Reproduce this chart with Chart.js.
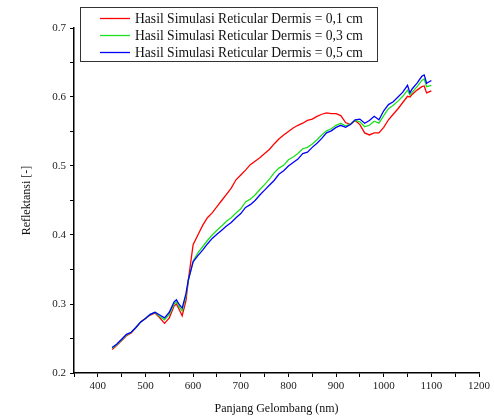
<!DOCTYPE html>
<html>
<head>
<meta charset="utf-8">
<script src="https://cdn.jsdelivr.net/npm/chart.js@4.4.1/dist/chart.umd.min.js"></script>
<style>
  html, body { margin: 0; padding: 0; background: #fff; }
  #wrap { width: 494px; height: 420px; position: relative; }
</style>
</head>
<body>
<div id="wrap"><canvas id="chart"></canvas></div>
<script>
// wavelengths (nm)
const wavelengths = [430, 440, 450, 460, 470, 480, 490, 500, 510, 520, 530, 540, 550, 560, 565, 570, 577, 585, 590,
  600, 610, 620, 630, 640, 650, 660, 670, 680, 690, 700, 710, 720, 730, 740, 750, 760, 770, 780, 790,
  800, 810, 820, 830, 840, 850, 860, 870, 880, 890, 900, 910, 920, 930, 940, 950, 960, 970, 980, 990,
  1000, 1010, 1020, 1030, 1040, 1050, 1055, 1060, 1070, 1080, 1085, 1090, 1100];

const dermis01 = [0.234, 0.240, 0.247, 0.254, 0.258, 0.266, 0.274, 0.279, 0.284, 0.287, 0.280, 0.272, 0.280, 0.297, 0.300, 0.293, 0.283, 0.305, 0.335,
  0.386, 0.400, 0.414, 0.425, 0.432, 0.441, 0.450, 0.459, 0.468, 0.480, 0.487, 0.494, 0.502, 0.507, 0.512, 0.518, 0.524, 0.532, 0.539, 0.545,
  0.550, 0.555, 0.559, 0.562, 0.566, 0.568, 0.572, 0.575, 0.577, 0.576, 0.576, 0.573, 0.563, 0.560, 0.566, 0.560, 0.548, 0.545, 0.548, 0.548,
  0.556, 0.567, 0.575, 0.583, 0.592, 0.601, 0.600, 0.604, 0.610, 0.615, 0.616, 0.606, 0.609];

const dermis03 = [0.236, 0.241, 0.248, 0.255, 0.259, 0.266, 0.274, 0.279, 0.285, 0.288, 0.282, 0.277, 0.285, 0.300, 0.303, 0.297, 0.290, 0.312, 0.334,
  0.362, 0.374, 0.383, 0.392, 0.400, 0.407, 0.413, 0.420, 0.425, 0.432, 0.438, 0.448, 0.452, 0.458, 0.466, 0.473, 0.481, 0.490, 0.497, 0.501,
  0.509, 0.513, 0.518, 0.525, 0.527, 0.532, 0.538, 0.545, 0.551, 0.554, 0.559, 0.562, 0.558, 0.561, 0.566, 0.564, 0.557, 0.559, 0.565, 0.562,
  0.573, 0.583, 0.588, 0.594, 0.601, 0.610, 0.603, 0.607, 0.615, 0.624, 0.626, 0.615, 0.617];

const dermis05 = [0.237, 0.242, 0.249, 0.256, 0.259, 0.266, 0.274, 0.279, 0.285, 0.288, 0.284, 0.280, 0.288, 0.303, 0.306, 0.300, 0.294, 0.315, 0.335,
  0.361, 0.370, 0.378, 0.387, 0.395, 0.401, 0.407, 0.413, 0.418, 0.425, 0.431, 0.440, 0.444, 0.450, 0.458, 0.465, 0.472, 0.479, 0.488, 0.493,
  0.500, 0.505, 0.510, 0.518, 0.520, 0.527, 0.533, 0.540, 0.548, 0.551, 0.556, 0.559, 0.556, 0.560, 0.567, 0.568, 0.562, 0.566, 0.572, 0.567,
  0.580, 0.589, 0.593, 0.600, 0.607, 0.617, 0.606, 0.612, 0.620, 0.630, 0.632, 0.620, 0.624];

const seriesLabels = [
  'Hasil Simulasi Reticular Dermis = 0,1 cm',
  'Hasil Simulasi Reticular Dermis = 0,3 cm',
  'Hasil Simulasi Reticular Dermis = 0,5 cm'
];
const seriesColors = ['#ff0000', '#1ee01e', '#0000ff'];

const serif = "'Liberation Serif', 'DejaVu Serif', serif";

const toPoints = vals => wavelengths.map((w, i) => ({ x: w, y: vals[i] }));

// legend box drawn by hand, in the order of seriesLabels
const boxLegend = {
  id: 'boxLegend',
  afterDraw(chart) {
    const ctx = chart.ctx;
    ctx.save();
    ctx.fillStyle = '#fff';
    ctx.fillRect(80, 7, 297, 54);
    ctx.strokeStyle = '#333';
    ctx.lineWidth = 1;
    ctx.strokeRect(80.5, 7.5, 297, 54);
    ctx.font = '13.6px ' + serif;
    ctx.textBaseline = 'middle';
    seriesLabels.forEach((label, i) => {
      const y = 18.5 + i * 17;
      ctx.strokeStyle = seriesColors[i];
      ctx.lineWidth = 1.3;
      ctx.beginPath();
      ctx.moveTo(100, y);
      ctx.lineTo(130, y);
      ctx.stroke();
      ctx.fillStyle = '#111';
      ctx.fillText(label, 135, y + 1);
    });
    ctx.restore();
  }
};

new Chart(document.getElementById('chart'), {
  type: 'line',
  data: {
    // blue drawn last so it sits on top, as in the original
    datasets: [dermis01, dermis03, dermis05].map((vals, i) => ({
      label: seriesLabels[i],
      data: toPoints(vals),
      borderColor: seriesColors[i],
      borderWidth: 1.3,
      pointRadius: 0,
      tension: 0,
      fill: false
    })).reverse()
  },
  options: {
    responsive: true,
    maintainAspectRatio: false,
    animation: false,
    layout: { padding: { top: 28, right: 15, left: 16, bottom: 0 } },
    plugins: {
      legend: { display: false },
      tooltip: { enabled: false }
    },
    scales: {
      x: {
        type: 'linear',
        min: 350,
        max: 1200,
        afterFit(scale) { scale.height = 47; },
        ticks: {
          stepSize: 50,
          autoSkip: false,
          maxRotation: 0,
          color: '#222',
          font: { family: serif, size: 11 },
          padding: 3,
          callback: v => (v % 100 === 0 ? String(v) : '')
        },
        grid: { display: true, drawOnChartArea: false, drawTicks: true, tickLength: 4, color: '#000', tickWidth: 1 },
        border: { display: true, color: '#000', width: 1.5 },
        title: { display: true, text: 'Panjang Gelombang (nm)', color: '#111', font: { family: serif, size: 12 }, padding: { top: 4 } }
      },
      y: {
        min: 0.2,
        max: 0.7,
        afterFit(scale) { scale.width = 58; },
        ticks: {
          stepSize: 0.05,
          autoSkip: false,
          color: '#222',
          font: { family: serif, size: 11 },
          padding: 4,
          callback: v => (Math.round(v * 100) % 10 === 0 ? (Math.round(v * 10) / 10).toFixed(1) : '')
        },
        grid: { display: true, drawOnChartArea: false, drawTicks: true, tickLength: 4, color: '#000', tickWidth: 1 },
        border: { display: true, color: '#000', width: 1.5 },
        title: { display: true, text: 'Reflektansi [-]', color: '#111', font: { family: serif, size: 12 }, padding: { bottom: 4 } }
      }
    }
  },
  plugins: [boxLegend]
});
</script>
</body>
</html>
